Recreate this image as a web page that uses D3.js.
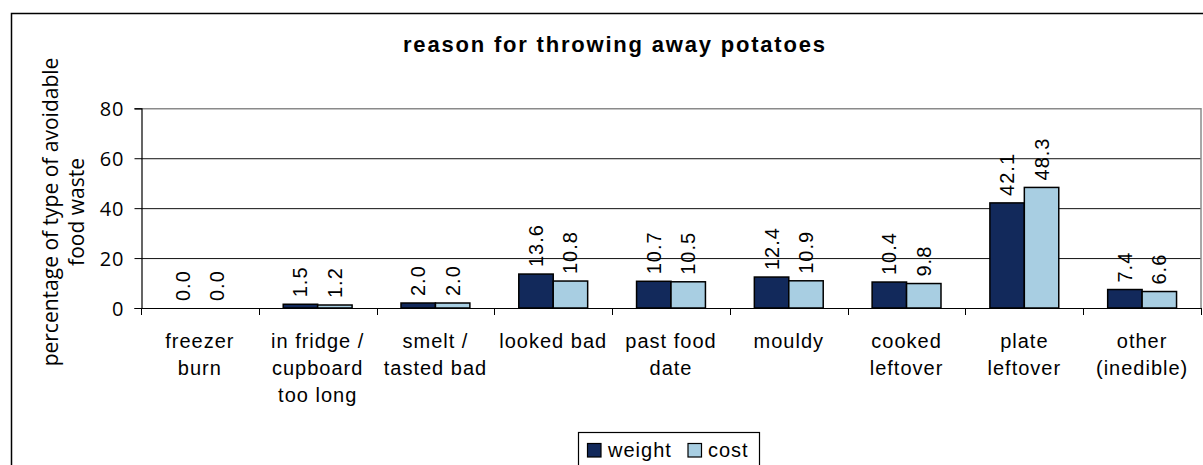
<!DOCTYPE html>
<html><head><meta charset="utf-8">
<script src="https://cdn.jsdelivr.net/npm/d3@7"></script>
<style>
body{margin:0;background:#fff;}
svg{display:block;}
.lab{font-family:"Liberation Sans",Arial,sans-serif;font-size:20px;letter-spacing:1px;fill:#000;}
.yt{font-family:"Open Sans",sans-serif;font-size:20px;fill:#000;}
</style>
</head><body>
<svg id="c" width="1203" height="465"></svg>
<script>
const categories = [
  ["freezer","burn"],
  ["in fridge /","cupboard","too long"],
  ["smelt /","tasted bad"],
  ["looked bad"],
  ["past food","date"],
  ["mouldy"],
  ["cooked","leftover"],
  ["plate","leftover"],
  ["other","(inedible)"]
];
const seriesNames = ["weight","cost"];
const weightValues = [0.0, 1.5, 2.0, 13.6, 10.7, 12.4, 10.4, 42.1, 7.4];
const costValues   = [0.0, 1.2, 2.0, 10.8, 10.5, 10.9, 9.8, 48.3, 6.6];
const yTicks = [0, 20, 40, 60, 80];
const colors = ["#12295B", "#A8CEE2"];
const title = "reason for throwing away potatoes";
const yTitle = ["percentage of type of avoidable","food waste"];

const svg = d3.select("#c");
const pLeft = 141, pRight = 1201, pTop = 108.3, pBottom = 308;

// outer frame
svg.append("rect").attr("x",11.5).attr("y",13.5).attr("width",1220).attr("height",480)
  .attr("fill","none").attr("stroke","#000").attr("stroke-width",1.5);

const idx = d3.range(categories.length);
const x = d3.scaleBand().domain(idx).range([pLeft, pRight]).padding(0);
const x1 = d3.scaleBand().domain(seriesNames).range([0, x.bandwidth()]).paddingInner(0).paddingOuter(0.71);
const y = d3.scaleLinear().domain([0, 80]).range([pBottom, pTop]);

// gridlines
svg.append("g").selectAll("line").data(yTicks.filter(t=>t>0 && t<80)).join("line")
  .attr("x1",pLeft).attr("x2",pRight).attr("y1",d=>y(d)+0.5).attr("y2",d=>y(d)+0.5)
  .attr("stroke","#111").attr("stroke-width",1);
// plot border top & right
svg.append("path").attr("d",`M${pLeft},${y(80)+0.5}H${pRight}V${pBottom}`)
  .attr("fill","none").attr("stroke","#8a8a8a").attr("stroke-width",1.5);

// bars
const data = idx.map(i => ({i, vals:[weightValues[i], costValues[i]]}));
const g = svg.append("g");
data.forEach(d => {
  d.vals.forEach((v, s) => {
    const bx = x(d.i) + x1(seriesNames[s]);
    g.append("rect").attr("x", bx).attr("y", y(v)).attr("width", x1.bandwidth())
      .attr("height", Math.max(0, y(0) - y(v))).attr("fill", colors[s])
      .attr("stroke","#000").attr("stroke-width",1.5);
    const cx = bx + x1.bandwidth()/2;
    g.append("text").attr("class","lab")
      .attr("transform", `translate(${cx + 7},${y(v) - 7}) rotate(-90)`)
      .attr("text-anchor","start").text(v.toFixed(1));
  });
});

// y axis
const yAxis = d3.axisLeft(y).tickValues(yTicks).tickSize(7).tickPadding(10).tickFormat(d3.format("d"));
const ya = svg.append("g").attr("transform",`translate(${pLeft+0.5},0)`).call(yAxis);
ya.select(".domain").attr("stroke","#000").attr("stroke-width",1.2);
ya.selectAll(".tick line").attr("stroke","#000");
ya.selectAll(".tick text").attr("class","yt").attr("font-family",null).attr("font-size",null)
  .attr("dy","0.36em").style("letter-spacing","1px");
ya.attr("font-family",null).attr("font-size",null);

// x axis
const xTickPos = idx.map(i => x(i)).concat([pRight]);
svg.append("line").attr("x1",pLeft).attr("x2",pRight).attr("y1",pBottom+0.5).attr("y2",pBottom+0.5)
  .attr("stroke","#000").attr("stroke-width",1.2);
svg.append("g").selectAll("line").data(xTickPos).join("line")
  .attr("x1",d=>Math.round(d)+0.5).attr("x2",d=>Math.round(d)+0.5).attr("y1",pBottom).attr("y2",pBottom+7)
  .attr("stroke","#000");
idx.forEach(i => {
  const t = svg.append("text").attr("class","lab").attr("text-anchor","middle")
    .attr("x", x(i) + x.bandwidth()/2).attr("y", 348);
  categories[i].forEach((ln, k) => {
    t.append("tspan").attr("x", x(i) + x.bandwidth()/2).attr("dy", k === 0 ? 0 : 27).text(ln);
  });
});

// title
svg.append("text").attr("x",614).attr("y",52).attr("text-anchor","middle")
  .attr("font-family","Liberation Sans, Arial, sans-serif").attr("font-weight","bold")
  .attr("font-size","22px").attr("textLength",422).attr("lengthAdjust","spacing").text(title);

// y title
const yt = svg.append("text").attr("transform","translate(0,212) rotate(-90)")
  .attr("text-anchor","middle").attr("font-family","Open Sans, sans-serif").attr("font-size","21px");
yt.append("tspan").attr("x",0).attr("y",58).text(yTitle[0]);
yt.append("tspan").attr("x",0).attr("y",84).text(yTitle[1]);

// legend
svg.append("rect").attr("x",578.5).attr("y",432.5).attr("width",181).attr("height",50)
  .attr("fill","#fff").attr("stroke","#000").attr("stroke-width",1.2);
const legX = [587.5, 688];
const legTX = [608, 708];
seriesNames.forEach((n, s) => {
  svg.append("rect").attr("x",legX[s]).attr("y",443.5).attr("width",13.5).attr("height",13.5)
    .attr("fill",colors[s]).attr("stroke","#000").attr("stroke-width",1.2);
  svg.append("text").attr("class","lab").attr("x",legTX[s]).attr("y",457).text(n);
});
</script>
</body></html>
